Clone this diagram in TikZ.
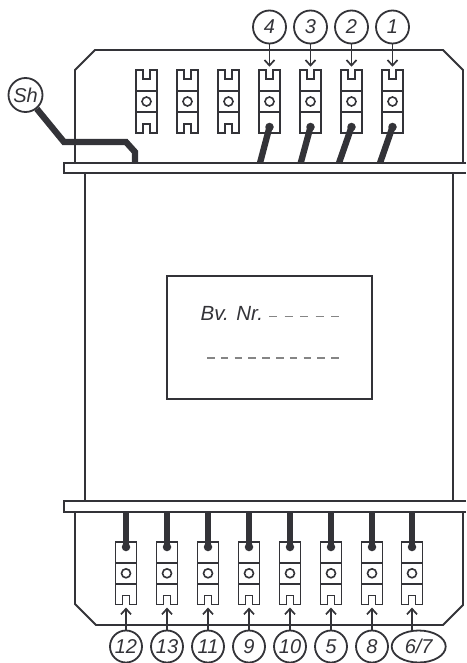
\documentclass[tikz,border=0pt]{standalone}
\usepackage{fontspec}
\setmainfont{Liberation Sans}
\usetikzlibrary{arrows.meta,shapes.geometric}
\definecolor{ink}{HTML}{333338}
\definecolor{dashgray}{HTML}{858585}
\tikzset{
  outline/.style={draw=ink,line width=1.8pt,line join=miter},
  term/.style={outline,rectangle,minimum width=21pt,minimum height=62.5pt,inner sep=0pt,outer sep=0pt},
  lab/.style={outline,circle,minimum size=33pt,inner sep=0pt,font=\itshape\fontsize{20}{22}\selectfont,text=ink},
  labell/.style={outline,ellipse,minimum width=54pt,minimum height=32pt,inner sep=0pt,font=\itshape\fontsize{20}{22}\selectfont,text=ink},
  arr/.style={draw=ink,line width=1.7pt,-{Straight Barb[length=5.5pt,width=10pt,line width=1.7pt]}},
  wire/.style={draw=ink,line width=6.3pt,line cap=butt},
  dot/.style={fill=ink,circle,minimum size=8.5pt,inner sep=0pt},
  dashone/.style={draw=dashgray,line width=1.5pt,dash pattern=on 8pt off 7.5pt},
  dashtwo/.style={draw=dashgray,line width=1.5pt,dash pattern=on 7.5pt off 6.3pt},
  notch/.style={outline,line width=1.6pt},
}
\newcommand{\termdetail}[2]{%
  \begin{scope}[shift={(#1,#2)}]
    \draw[notch] (-10.5,-10.5) -- (10.5,-10.5) (-10.5,10.5) -- (10.5,10.5);
    \draw[notch] (0,0) circle (4.5);
  \end{scope}
}
\newcommand{\notchtop}[2]{% x, top edge y
  \fill[white] (#1-3.5,#2-1.2) rectangle (#1+3.5,#2+1.2);
  \draw[notch] (#1-3.5,#2-0.9) -- (#1-3.5,#2+9) -- (#1+3.5,#2+9) -- (#1+3.5,#2-0.9);
}
\newcommand{\notchbot}[2]{% x, bottom edge y
  \fill[white] (#1-3.5,#2-1.2) rectangle (#1+3.5,#2+1.2);
  \draw[notch] (#1-3.5,#2+0.9) -- (#1-3.5,#2-9) -- (#1+3.5,#2-9) -- (#1+3.5,#2+0.9);
}
\begin{document}
\begin{tikzpicture}[x=1pt,y=-1pt]
\useasboundingbox (0,0) rectangle (466,663);
\fill[white] (0,0) rectangle (466,663);
% housing
\draw[outline] (75,163) -- (75,70) -- (95,50) -- (443,50) -- (463,70) -- (463,163);
\draw[outline] (75,512) -- (75,604) -- (96,625) -- (443,625) -- (463,605) -- (463,512);
\draw[outline] (85,173) -- (85,501);
\draw[outline] (453,173) -- (453,501);
\draw[outline] (466,163) -- (64,163) -- (64,173) -- (466,173);
\draw[outline] (466,501) -- (64,501) -- (64,512) -- (466,512);
% nameplate
\node[outline,rectangle,minimum width=205pt,minimum height=123pt,inner sep=0pt] (plate) at (269.2,337.3) {};
\node[anchor=base west,inner sep=0pt,text=ink,font=\itshape\fontsize{20.5}{22}\selectfont] (bv) at (200.5,320) {Bv. Nr.};
\coordinate (d1a) at (269,316.7); \coordinate (d1b) at (339,316.7);
\coordinate (d2a) at (207,358); \coordinate (d2b) at (339,358);
\draw[dashone] (d1a) -- (d1b);
\draw[dashtwo] (d2a) -- (d2b);
% top terminals
\foreach \n/\x in {a/146.5,b/187.5,c/228.5,d/269.5,e/310.5,f/351.5,g/392.5}{
  \node[term] (t\n) at (\x,101.5) {};
  \termdetail{\x}{101.5}
  \notchtop{\x}{70.25}
}
\foreach \n/\x in {a/146.5,b/187.5,c/228.5}{
  \notchbot{\x}{132.75}
}
% top labels
\foreach \n/\x/\t in {d/269.5/4,e/310.5/3,f/351.5/2,g/392.5/1}{
  \node[lab] (l\n) at (\x,27) {\t};
  \draw[arr,shorten >=3.5pt] (l\n) -- (t\n);
}
% top wires
\foreach \n/\x/\ex in {d/269.5/260,e/310.5/300.7,f/351.5/339,g/392.5/380}{
  \coordinate (w\n) at (\x,127);
  \coordinate (e\n) at (\ex,163);
  \node[dot] at (w\n) {};
  \draw[wire] (w\n) -- (e\n);
}
% shield
\node[lab,minimum size=34pt] (sh) at (25.5,95) {Sh};
\coordinate (s1) at (64,142); \coordinate (s2) at (126,142); \coordinate (s3) at (135,152); \coordinate (s4) at (135,163);
\draw[wire,line join=miter] (sh) -- (s1) -- (s2) -- (s3) -- (s4);
% bottom terminals
\foreach \n/\x/\t in {h/126/12,i/167/13,j/208/11,k/249/9,l/290/10,m/331/5,n/372/8}{
  \node[term] (t\n) at (\x,573.3) {};
  \termdetail{\x}{573.3}
  \notchbot{\x}{604.55}
  \node[lab,minimum size=32pt] (l\n) at (\x,646.5) {\t};
  \draw[arr,shorten >=3pt] (l\n) -- (t\n);
  \coordinate (w\n) at (\x,547);
  \coordinate (e\n) at (\x,512);
  \node[dot] at (w\n) {};
  \draw[wire] (w\n) -- (e\n);
}
\node[term] (to) at (412,573.3) {};
\termdetail{412}{573.3}
\notchbot{412}{604.55}
\node[labell] (lo) at (418.7,646.5) {6/7};
\coordinate (ao) at (412,631);
\draw[arr,shorten >=3pt] (ao) -- (to);
\coordinate (wo) at (412,547);
\coordinate (eo) at (412,512);
\node[dot] at (wo) {};
\draw[wire] (wo) -- (eo);
\end{tikzpicture}
\end{document}
